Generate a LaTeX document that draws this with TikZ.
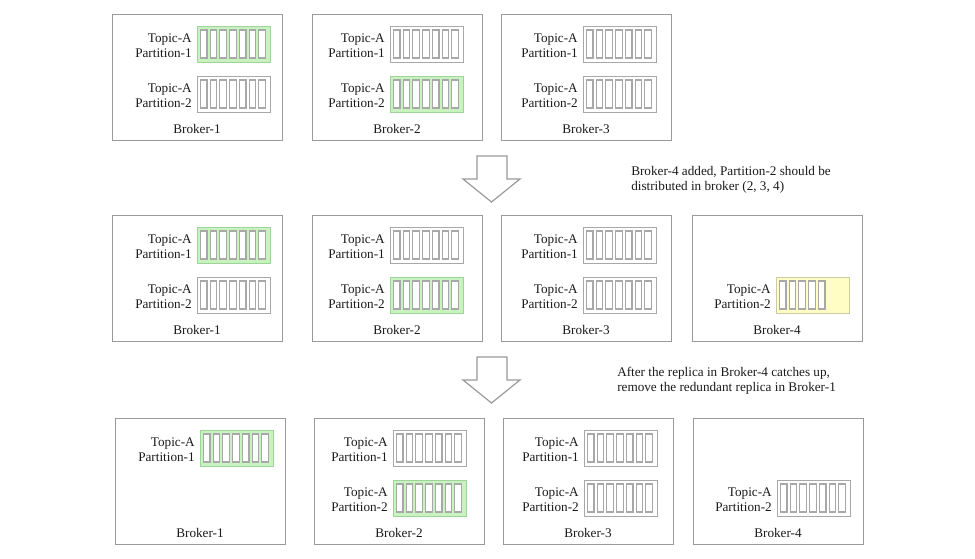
\documentclass[tikz,border=0pt]{standalone}
\usepackage{fontspec}
\setmainfont{Liberation Serif}
\definecolor{boxline}{HTML}{9A9A9A}
\definecolor{slotline}{HTML}{A8A8A8}
\definecolor{leadfill}{HTML}{C8F2BE}
\definecolor{leadline}{HTML}{9ED49A}
\definecolor{newfill}{HTML}{FFFCC4}
\definecolor{newline}{HTML}{C9C9A6}
\definecolor{txt}{HTML}{1A1A1A}
\tikzset{
  broker/.style={draw=boxline, line width=0.9pt, fill=white, anchor=north west,
    minimum width=170*0.75pt, minimum height=126*0.75pt, inner sep=0pt},
  partbox/.style={anchor=north west, minimum width=73*0.75pt,
    minimum height=36*0.75pt, inner sep=0pt, line width=0.9pt},
  follower/.style={partbox, draw=slotline, fill=white},
  leader/.style={partbox, draw=leadline, fill=leadfill},
  fresh/.style={partbox, draw=newline, fill=newfill},
  slot/.style={draw=slotline, fill=white, line width=0.8pt},
  lbl/.style={font=\fontsize{9.9}{11.3}\selectfont, text=txt, inner sep=0pt, align=right},
  note/.style={font=\fontsize{9.9}{11.3}\selectfont, text=txt, inner sep=0pt, align=left, anchor=west},
  bigarrow/.style={draw=boxline, fill=white, line width=0.9pt, line join=miter}
}
% broker box: name, left, top, number
\newcommand\brokerbox[4]{%
  \node[broker] (#1) at (#2,#3) {};
  \node[lbl] (#1-name) at (#2+85,#3+115) {Broker-#4};
}
% partition replica: name, left, top, style, slots, partition number
\newcommand\replica[6]{%
  \node[#4] (#1) at (#2,#3) {};
  \foreach \k in {1,...,#5}
    \draw[slot] (#2+3.4+\k*9.75-9.75,#3+4) rectangle ++(6.6,28);
  \node[lbl, anchor=east] (#1-lbl) at (#2-5,#3+19.5) {Topic-A\\Partition-#6};
}
\begin{document}
\begin{tikzpicture}[x=0.75pt,y=-0.75pt]
\useasboundingbox (0,0) rectangle (975,559);

% ---- initial layout
\brokerbox{a1}{112}{14}{1}
\replica{a1p1}{197}{26}{leader}{7}{1}
\replica{a1p2}{197}{76}{follower}{7}{2}
\brokerbox{a2}{312}{14}{2}
\replica{a2p1}{390}{26}{follower}{7}{1}
\replica{a2p2}{390}{76}{leader}{7}{2}
\brokerbox{a3}{501}{14}{3}
\replica{a3p1}{583}{26}{follower}{7}{1}
\replica{a3p2}{583}{76}{follower}{7}{2}

% ---- step arrow 1
\draw[bigarrow] (477,156) -- (507,156) -- (507,179) -- (520,179) -- (491.5,202)
  -- (463,179) -- (477,179) -- cycle;
\node[note] (n1) at (631,179.5) {Broker-4 added, Partition-2 should be\\distributed in broker (2, 3, 4)};

% ---- Broker-4 joins
\brokerbox{b1}{112}{215}{1}
\replica{b1p1}{197}{227}{leader}{7}{1}
\replica{b1p2}{197}{277}{follower}{7}{2}
\brokerbox{b2}{312}{215}{2}
\replica{b2p1}{390}{227}{follower}{7}{1}
\replica{b2p2}{390}{277}{leader}{7}{2}
\brokerbox{b3}{501}{215}{3}
\replica{b3p1}{583}{227}{follower}{7}{1}
\replica{b3p2}{583}{277}{follower}{7}{2}
\brokerbox{b4}{692}{215}{4}
\replica{b4p2}{776}{277}{fresh}{5}{2}

% ---- step arrow 2
\draw[bigarrow] (477,357) -- (507,357) -- (507,380) -- (520,380) -- (491.5,403)
  -- (463,380) -- (477,380) -- cycle;
\node[note] (n2) at (617,380.5) {After the replica in Broker-4 catches up,\\remove the redundant replica in Broker-1};

% ---- final layout
\brokerbox{c1}{115}{418}{1}
\replica{c1p1}{200}{430}{leader}{7}{1}
\brokerbox{c2}{314}{418}{2}
\replica{c2p1}{393}{430}{follower}{7}{1}
\replica{c2p2}{393}{480}{leader}{7}{2}
\brokerbox{c3}{503}{418}{3}
\replica{c3p1}{584}{430}{follower}{7}{1}
\replica{c3p2}{584}{480}{follower}{7}{2}
\brokerbox{c4}{693}{418}{4}
\replica{c4p2}{777}{480}{follower}{7}{2}
\end{tikzpicture}
\end{document}
